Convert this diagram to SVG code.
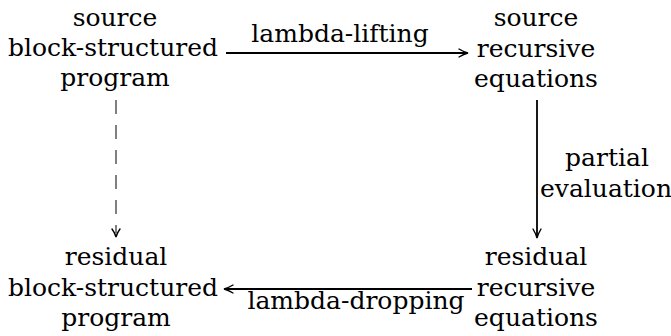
<svg xmlns="http://www.w3.org/2000/svg" width="671" height="336" viewBox="0 0 671 336">
<defs>
<style>
text{font-family:"DejaVu Serif","Liberation Serif",serif;font-size:25px;fill:#000;text-anchor:middle}
.e{fill:none;stroke:#000;stroke-width:1.8}
.d{fill:none;stroke:#000;stroke-width:1;stroke-dasharray:14 11}
.h{fill:none;stroke:#000;stroke-width:1.4;stroke-linecap:round}
</style>
</defs>
<rect width="671" height="336" fill="#fff"/>
<g id="n1"><text x="115" y="26">source</text><text x="113" y="56">block-structured</text><text x="115" y="86">program</text></g>
<g id="n2"><text x="536" y="26">source</text><text x="536" y="57">recursive</text><text x="536" y="87">equations</text></g>
<g id="n3"><text x="116" y="265">residual</text><text x="113" y="296">block-structured</text><text x="116" y="326">program</text></g>
<g id="n4"><text x="536" y="265">residual</text><text x="536" y="296">recursive</text><text x="536" y="326">equations</text></g>
<g id="edges">
<path class="e" d="M226,53H467"/><path class="h" d="M459,49Q464,52 468,53Q464,54 459,57"/>
<text x="340" y="42">lambda-lifting</text>
<path class="e" d="M537,100V237"/><path class="h" d="M533,229Q536,234 537,238Q538,234 541,229"/>
<text x="607" y="166">partial</text><text x="606" y="197">evaluation</text>
<path class="e" d="M472,289H225"/><path class="h" d="M233,285Q228,288 224,289Q228,290 233,293"/>
<text x="356" y="309">lambda-dropping</text>
<path class="d" d="M116,100V233"/><path class="h" d="M112,229Q115,233 116,237Q117,233 120,229"/>
</g>
</svg>
